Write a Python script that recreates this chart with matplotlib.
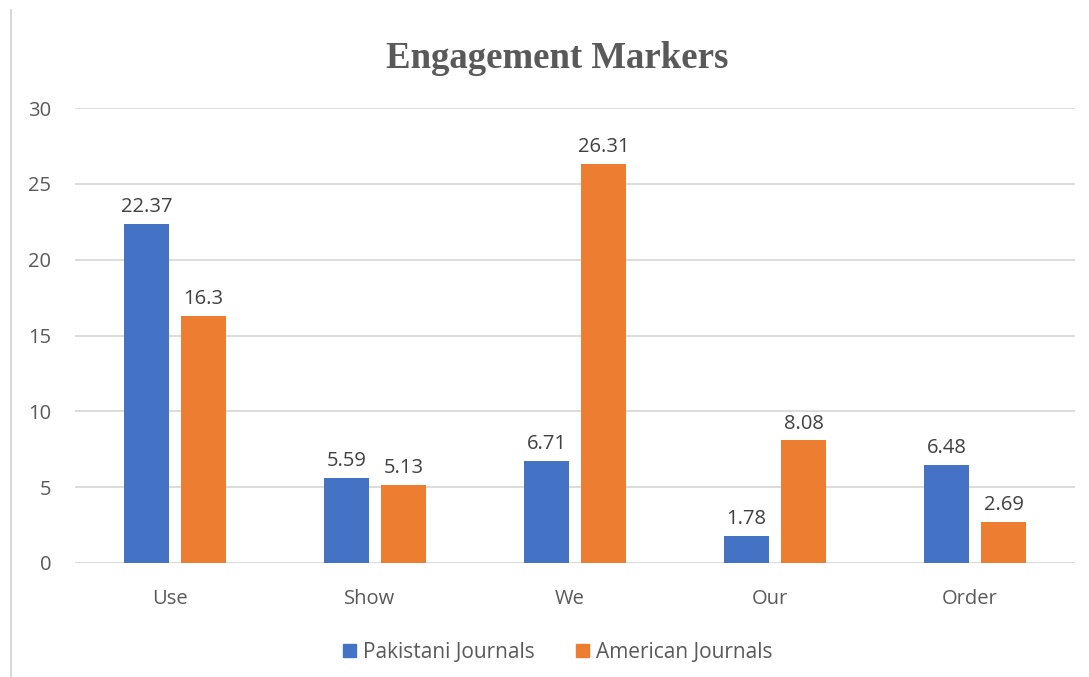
import matplotlib
matplotlib.use("Agg")
import matplotlib.pyplot as plt
from matplotlib.lines import Line2D
from matplotlib.patches import Patch
from matplotlib.transforms import ScaledTranslation
import numpy as np

categories = ["Use", "Show", "We", "Our", "Order"]
pakistani = [22.37, 5.59, 6.71, 1.78, 6.48]
american = [16.3, 5.13, 26.31, 8.08, 2.69]
pak_labels = ["22.37", "5.59", "6.71", "1.78", "6.48"]
ame_labels = ["16.3", "5.13", "26.31", "8.08", "2.69"]
yticks = [0, 5, 10, 15, 20, 25, 30]

BLUE = "#4472C4"
ORANGE = "#ED7D31"
GRID = "#D9D9D9"
TXT = "#595959"
LBL = "#404040"
FONT = ["Open Sans", "DejaVu Sans"]

W, H = 1089, 677
fig = plt.figure(figsize=(W / 100, H / 100), dpi=100)
ax = fig.add_axes([75 / W, (H - 563) / H, 1000 / W, (563 - 108) / H])

x = np.arange(len(categories))
bw = 0.225
off = 0.1425
ax.bar(x - off, pakistani, bw, color=BLUE, zorder=3)
ax.bar(x + off, american, bw, color=ORANGE, zorder=3)

for xi, v, s in zip(x, pakistani, pak_labels):
    ax.annotate(s, (xi - off, v), xytext=(0, 5), textcoords="offset points",
                ha="center", va="bottom", fontsize=14.5, color=LBL, family=FONT)
for xi, v, s in zip(x, american, ame_labels):
    ax.annotate(s, (xi + off, v), xytext=(0, 5), textcoords="offset points",
                ha="center", va="bottom", fontsize=14.5, color=LBL, family=FONT)

ax.set_xlim(-0.5, len(categories) - 0.5)
ax.set_ylim(0, 30)
ax.set_yticks(yticks)
ax.set_yticklabels([str(t) for t in yticks], family=FONT, fontsize=14.5, color=TXT)
ax.set_xticks(x)
ax.set_xticklabels(categories, family=FONT, fontsize=14.5, color=TXT)
ax.tick_params(axis="both", length=0)
ax.tick_params(axis="y", pad=17)
ax.tick_params(axis="x", pad=19)
shift = ScaledTranslation(-5 / 100, 0, fig.dpi_scale_trans)
for lab in ax.get_xticklabels():
    lab.set_transform(lab.get_transform() + shift)
ax.grid(axis="y", color=GRID, linewidth=1.3, zorder=0)
for s in ax.spines.values():
    s.set_visible(False)

fig.text(557 / W, 1 - 58 / H, "Engagement Markers", ha="center", va="center",
         fontsize=26.5, fontweight="bold", color=TXT, family=["Liberation Serif", "DejaVu Serif"])

handles = [Patch(color=BLUE, label="Pakistani Journals"),
           Patch(color=ORANGE, label="American Journals")]
leg = fig.legend(handles=handles, loc="center", bbox_to_anchor=(558 / W, 1 - 652 / H),
                 ncol=2, frameon=False, handlelength=0.6, handleheight=0.6,
                 handletextpad=0.35, columnspacing=2.0,
                 prop={"family": FONT, "size": 15})
for t in leg.get_texts():
    t.set_color(TXT)

fig.add_artist(Line2D([11 / W, 11 / W], [0, 1 - 10 / H], transform=fig.transFigure,
                      color=GRID, linewidth=1.5))

fig.savefig("out.png", dpi=100)
